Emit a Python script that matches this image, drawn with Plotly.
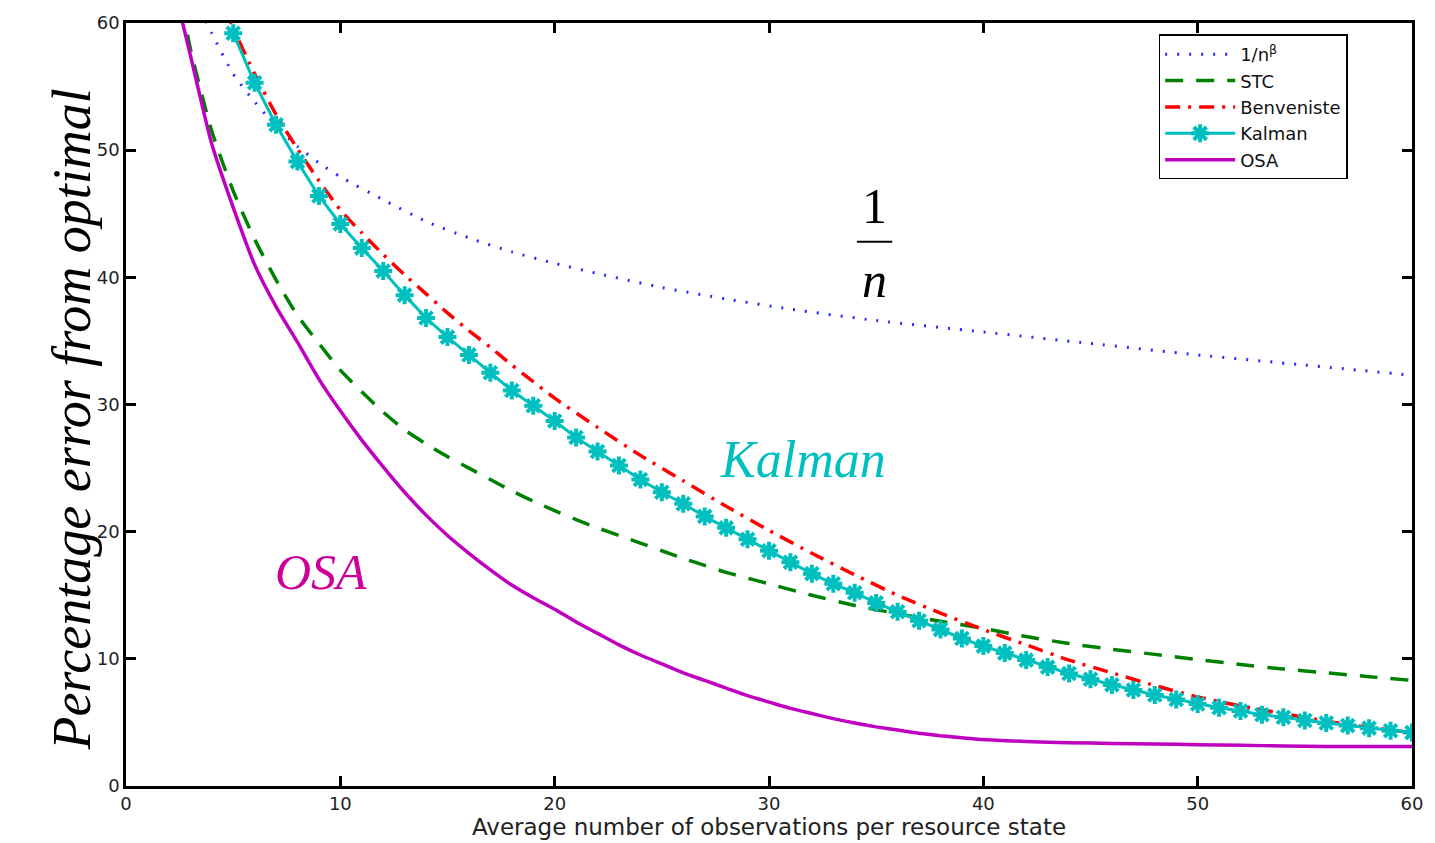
import plotly.graph_objects as go

# ---------------- data ----------------
x_blue = [3.5, 4, 5, 6, 7, 8, 9, 10, 12, 14, 16, 18, 20, 22, 25, 28, 31, 35, 40, 45, 50, 55, 60]
y_blue = [61.0, 59.2, 56.0, 53.8, 51.9, 50.3, 49.0, 47.9, 46.1, 44.4, 43.1, 42.0, 41.1, 40.3, 39.2, 38.3, 37.5, 36.6, 35.7, 34.8, 33.9, 33.1, 32.3]

x_stc = [2.6, 3, 4, 5, 6, 7, 8, 9, 10, 11, 12, 13, 14, 15, 16, 17, 18, 19, 20, 21, 22, 23, 24, 25, 26, 27, 28,
         30, 32, 34, 36, 38, 40, 42, 44, 46, 48, 50, 52, 54, 56, 58, 60]
y_stc = [61.5, 58.0, 51.5, 46.8, 43.0, 39.8, 37.0, 34.8, 32.7, 31.0, 29.4, 28.0, 26.9, 25.9, 25.0, 24.1, 23.2, 22.4, 21.65, 20.95, 20.3, 19.7, 19.1, 18.5, 17.9, 17.35, 16.8,
         15.9, 15.0, 14.2, 13.55, 12.95, 12.4, 11.75, 11.2, 10.75, 10.35, 9.95, 9.55, 9.2, 8.9, 8.6, 8.3]

x_ben = [4, 5, 6, 7, 8, 9, 10, 11, 12, 13, 14, 15, 16, 17, 18, 19, 20, 22, 24, 26, 28, 30, 32, 34, 36, 38, 40, 42, 44, 46, 48, 50, 52, 54, 56, 58, 60]
y_ben = [63.5, 59.6, 56.0, 52.8, 50.1, 47.6, 45.3, 43.5, 41.8, 40.2, 38.7, 37.2, 35.8, 34.5, 33.1, 31.8, 30.5, 28.2, 26.0, 24.0, 22.0, 20.1, 18.3, 16.6, 15.0, 13.6, 12.3, 11.1, 9.9, 8.9, 7.9, 7.0, 6.3, 5.7, 5.1, 4.6, 4.2]

x_kal = list(range(5, 61))
y_kal = [59.2, 55.3, 52.0, 49.1, 46.4, 44.2, 42.3, 40.5, 38.6, 36.8,
         35.3, 33.9, 32.5, 31.1, 29.9, 28.7, 27.4, 26.3, 25.2, 24.1,
         23.1, 22.2, 21.2, 20.3, 19.4, 18.5, 17.6, 16.7, 15.9, 15.2,
         14.4, 13.7, 13.0, 12.3, 11.6, 11.0, 10.45, 9.9, 9.35, 8.85,
         8.4, 7.95, 7.55, 7.15, 6.8, 6.45, 6.15, 5.9, 5.6, 5.4,
         5.15, 4.95, 4.75, 4.55, 4.35, 4.2]

x_osa = [2.5, 3, 4, 5, 6, 7, 8, 9, 10, 11, 12, 13, 14, 15, 16, 17, 18, 19, 20, 21, 22, 23, 24, 25, 26, 27, 28, 29, 30,
         31, 32, 33, 34, 35, 36, 37, 38, 39, 40, 42, 44, 46, 48, 50, 52, 54, 56, 58, 60]
y_osa = [61.0, 57.5, 50.5, 45.5, 41.0, 37.7, 34.9, 32.0, 29.5, 27.2, 25.1, 23.1, 21.3, 19.7, 18.3, 17.0, 15.8, 14.8, 13.9, 12.9, 12.0, 11.1, 10.3, 9.6, 8.9, 8.3, 7.7, 7.1, 6.6,
         6.1, 5.7, 5.3, 4.95, 4.65, 4.4, 4.15, 3.95, 3.8, 3.65, 3.5, 3.4, 3.35, 3.3, 3.25, 3.2, 3.15, 3.1, 3.1, 3.1]

x_ticks = [0, 10, 20, 30, 40, 50, 60]
y_ticks = [0, 10, 20, 30, 40, 50, 60]

# ---------------- figure ----------------
fig = go.Figure()

fig.add_trace(go.Scatter(x=x_blue, y=y_blue, mode="lines", name="1/n<sup>β</sup>",
                         line=dict(color="rgb(40,40,255)", width=3, dash="2px,10px", shape="spline", smoothing=0.6)))
fig.add_trace(go.Scatter(x=x_stc, y=y_stc, mode="lines", name="STC",
                         line=dict(color="rgb(0,128,0)", width=3.5, dash="18px,13px", shape="spline", smoothing=0.6)))
fig.add_trace(go.Scatter(x=x_ben, y=y_ben, mode="lines", name="Benveniste",
                         line=dict(color="rgb(255,0,0)", width=3.5, dash="15px,8px,3px,8px", shape="spline", smoothing=0.6)))
fig.add_trace(go.Scatter(x=x_kal, y=y_kal, mode="lines+markers", name="Kalman",
                         line=dict(color="rgb(0,191,191)", width=3),
                         marker=dict(symbol="asterisk-open", size=15, color="rgb(0,191,191)",
                                     line=dict(color="rgb(0,191,191)", width=4))))
fig.add_trace(go.Scatter(x=x_osa, y=y_osa, mode="lines", name="OSA",
                         line=dict(color="rgb(191,0,191)", width=3.5, shape="spline", smoothing=0.6)))

sans = "DejaVu Sans, Liberation Sans, Arial"
axis_common = dict(showline=True, linecolor="black", linewidth=2.5, mirror="ticks",
                   ticks="inside", ticklen=10, tickwidth=2.5, tickcolor="black",
                   showgrid=False, zeroline=False,
                   tickfont=dict(family=sans, size=18, color="#222"))

fig.update_xaxes(range=[0, 60], tickvals=x_ticks, ticktext=[str(v) for v in x_ticks],
                 title=dict(text="Average number of observations per resource state",
                            font=dict(family=sans, size=23, color="#222"),
                            standoff=1),
                 **axis_common)
fig.update_yaxes(range=[0, 60], tickvals=y_ticks, ticktext=[str(v) for v in y_ticks],
                 **axis_common)

fig.update_layout(
    width=1435, height=843,
    margin=dict(l=126, r=14, t=16, b=57),
    plot_bgcolor="white", paper_bgcolor="white",
    showlegend=True,
    legend=dict(x=0.803, y=0.985, xanchor="left", yanchor="top",
                bgcolor="white", bordercolor="black", borderwidth=1.5,
                font=dict(family=sans, size=18, color="#111"),
                itemwidth=70, tracegroupgap=0),
)

serif = "Liberation Serif, Times New Roman, serif"
# y axis title as rotated annotation
fig.add_annotation(text="<i>Percentage error from optimal</i>", xref="paper", yref="paper",
                   x=-0.067, y=0.48, showarrow=False, textangle=-90,
                   font=dict(family=serif, size=54, color="black"))
# in-plot labels
fig.add_annotation(text="1", x=34.9, y=45.6, showarrow=False,
                   font=dict(family=serif, size=50, color="black"))
fig.add_annotation(text="<i>n</i>", x=34.9, y=39.8, showarrow=False,
                   font=dict(family=serif, size=50, color="black"))
fig.add_shape(type="line", x0=34.1, x1=35.75, y0=42.8, y1=42.8,
              line=dict(color="black", width=2))
fig.add_annotation(text="<i>Kalman</i>", x=31.6, y=25.7, showarrow=False,
                   font=dict(family=serif, size=52, color="rgb(0,191,191)"))
fig.add_annotation(text="<i>OSA</i>", x=9.1, y=16.8, showarrow=False,
                   font=dict(family=serif, size=50, color="rgb(204,0,153)"))

fig.write_html("out.html", config={"displayModeBar": False},
               post_script="document.body.style.margin='0';document.body.style.padding='0';")
